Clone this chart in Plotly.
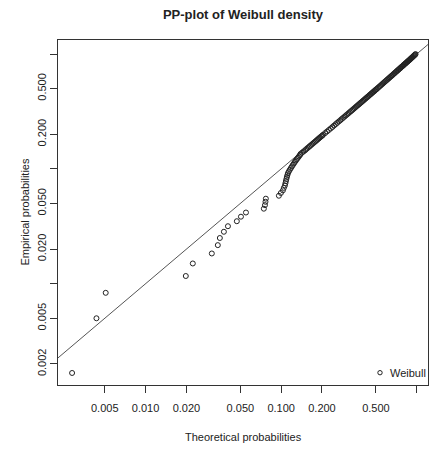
import plotly.graph_objects as go

# Theoretical (x) and empirical (y) probabilities
theo_prob = [
    0.00287, 0.00434, 0.00508, 0.0198, 0.0223, 0.0308, 0.0341, 0.0353, 0.0378, 0.0405,
    0.0471, 0.0505, 0.0550, 0.0745, 0.0759, 0.0766, 0.0771, 0.0962, 0.0995, 0.1030,
    0.1047, 0.1066, 0.1075, 0.1084, 0.1093, 0.1102, 0.1112, 0.1122, 0.1140, 0.1159,
    0.1180, 0.1200, 0.1221, 0.1242, 0.1263, 0.1285, 0.1306, 0.1330, 0.1352, 0.1375,
    0.1390, 0.1425, 0.1462, 0.1500, 0.1530, 0.1565, 0.1600, 0.1632, 0.1668, 0.1700,
    0.1735, 0.1770, 0.1805, 0.1838, 0.1872, 0.1905, 0.1940, 0.1975, 0.2010, 0.2040,
    0.2110, 0.2180, 0.2250, 0.2320, 0.2390, 0.2455, 0.2525, 0.2590, 0.2660, 0.2730,
    0.2795, 0.2865, 0.2935, 0.3000, 0.3070, 0.3140, 0.3205, 0.3275, 0.3345, 0.3410,
    0.3480, 0.3545, 0.3610, 0.3680, 0.3750, 0.3815, 0.3880, 0.3950, 0.4015, 0.4085,
    0.4150, 0.4215, 0.4285, 0.4350, 0.4420, 0.4485, 0.4550, 0.4620, 0.4685, 0.4750,
    0.4820, 0.4885, 0.4950, 0.5020, 0.5085,
    0.5180, 0.5280, 0.5380, 0.5475, 0.5575, 0.5670, 0.5770, 0.5865, 0.5965, 0.6060,
    0.6160, 0.6255, 0.6350, 0.6450, 0.6545, 0.6640, 0.6740, 0.6835, 0.6930, 0.7025,
    0.7120, 0.7215, 0.7310, 0.7405, 0.7500, 0.7595, 0.7690, 0.7785, 0.7880, 0.7975,
    0.8070, 0.8165, 0.8260, 0.8355, 0.8450, 0.8545, 0.8640, 0.8735, 0.8830, 0.8920,
    0.9010, 0.9100, 0.9190, 0.9280, 0.9370, 0.9460, 0.9550, 0.9640, 0.9730, 0.9800,
]
emp_prob = [
    0.00167, 0.005, 0.00833, 0.01167, 0.015, 0.01833, 0.02167, 0.025, 0.02833, 0.03167,
    0.035, 0.03833, 0.04167, 0.045, 0.04833, 0.05167, 0.055, 0.05833, 0.06167, 0.065,
    0.06833, 0.07167, 0.075, 0.07833, 0.08167, 0.085, 0.08833, 0.09167, 0.095, 0.09833,
    0.10167, 0.105, 0.10833, 0.11167, 0.115, 0.11833, 0.12167, 0.125, 0.12833, 0.13167,
    0.135, 0.1383, 0.1417, 0.145, 0.1483, 0.1517, 0.155, 0.1583, 0.1617, 0.165,
    0.1683, 0.1717, 0.175, 0.1783, 0.1817, 0.185, 0.1883, 0.1917, 0.195, 0.1983,
    0.205, 0.2117, 0.2183, 0.225, 0.2317, 0.2383, 0.245, 0.2517, 0.2583, 0.265,
    0.2717, 0.2783, 0.285, 0.2917, 0.2983, 0.305, 0.3117, 0.3183, 0.325, 0.3317,
    0.3383, 0.345, 0.3517, 0.3583, 0.365, 0.3717, 0.3783, 0.385, 0.3917, 0.3983,
    0.405, 0.4117, 0.4183, 0.425, 0.4317, 0.4383, 0.445, 0.4517, 0.4583, 0.465,
    0.4717, 0.4783, 0.485, 0.4917, 0.4983,
    0.5083, 0.5183, 0.5283, 0.5383, 0.5483, 0.5583, 0.5683, 0.5783, 0.5883, 0.5983,
    0.6083, 0.6183, 0.6283, 0.6383, 0.6483, 0.6583, 0.6683, 0.6783, 0.6883, 0.6983,
    0.7083, 0.7183, 0.7283, 0.7383, 0.7483, 0.7583, 0.7683, 0.7783, 0.7883, 0.7983,
    0.8083, 0.8183, 0.8283, 0.8383, 0.8483, 0.8583, 0.8683, 0.8783, 0.8883, 0.8983,
    0.9083, 0.9183, 0.9283, 0.9383, 0.9483, 0.9583, 0.9683, 0.9783, 0.9883, 0.9983,
]

# identity reference line endpoints (y = x)
ref_line = [0.0005, 5.0]

x_tickvals = [0.005, 0.01, 0.02, 0.05, 0.1, 0.2, 0.5, 1.0]
x_ticktext = ["0.005", "0.010", "0.020", "0.050", "0.100", "0.200", "0.500", "1.000"]
y_tickvals = [0.002, 0.005, 0.01, 0.02, 0.05, 0.1, 0.2, 0.5, 1.0]
y_ticktext = ["0.002", "0.005", "", "0.020", "0.050", "", "0.200", "0.500", ""]

FONT = "Liberation Sans, Arial, sans-serif"
INK = "#222222"

fig = go.Figure()
fig.add_trace(go.Scatter(
    x=ref_line, y=ref_line, mode="lines",
    line=dict(color="#555555", width=1), showlegend=False, hoverinfo="skip",
))
fig.add_trace(go.Scatter(
    x=theo_prob, y=emp_prob, mode="markers", name="Weibull",
    marker=dict(symbol="circle-open", size=5, color=INK, line=dict(width=1, color=INK)),
    showlegend=False,
))

L, R, T, B = 58, 2, 40, 64
W, H = 430, 449
pw, ph = W - L - R, H - T - B

def px_x(p):
    return (p - L) / pw

def px_y(p):
    return (H - B - p) / ph

axis_common = dict(
    type="log", showgrid=False, zeroline=False,
    showline=True, linecolor="#333333", linewidth=1, mirror=True,
    ticks="outside", ticklen=7, tickcolor="#333333", tickwidth=1,
    tickfont=dict(family=FONT, size=11, color=INK),
)

fig.update_layout(
    width=W, height=H,
    margin=dict(l=L, r=R, t=T, b=B),
    paper_bgcolor="white", plot_bgcolor="white",
    font=dict(family=FONT, size=11, color=INK),
    title=dict(text="<b>PP-plot of Weibull density</b>", x=0.5, xanchor="center",
               xref="paper", y=1 - 14 / H, yanchor="middle",
               font=dict(family=FONT, size=13, color=INK)),
    xaxis=dict(range=[-2.646, 0.083], tickvals=x_tickvals, ticktext=x_ticktext,
               ticklabelstandoff=6, **axis_common),
    yaxis=dict(range=[-2.882, 0.122], tickvals=y_tickvals, ticktext=y_ticktext,
               tickangle=-90, **axis_common),
    showlegend=False,
    annotations=[
        dict(text="Theoretical probabilities", xref="paper", yref="paper",
             x=0.5, y=px_y(437), xanchor="center", yanchor="middle",
             showarrow=False, font=dict(family=FONT, size=11, color=INK)),
        dict(text="Empirical probabilities", xref="paper", yref="paper",
             x=px_x(24), y=0.5, xanchor="center", yanchor="middle", textangle=-90,
             showarrow=False, font=dict(family=FONT, size=11, color=INK)),
        dict(text="Weibull", xref="paper", yref="paper",
             x=px_x(387.5), y=px_y(373), xanchor="left", yanchor="middle",
             showarrow=False, font=dict(family=FONT, size=11, color=INK)),
    ],
    shapes=[
        dict(type="circle", xref="paper", yref="paper", xsizemode="pixel", ysizemode="pixel",
             xanchor=px_x(380), yanchor=px_y(372.7), x0=-2.2, x1=2.2, y0=-2.2, y1=2.2,
             line=dict(color=INK, width=1)),
    ],
)

fig.write_html("out.html")
